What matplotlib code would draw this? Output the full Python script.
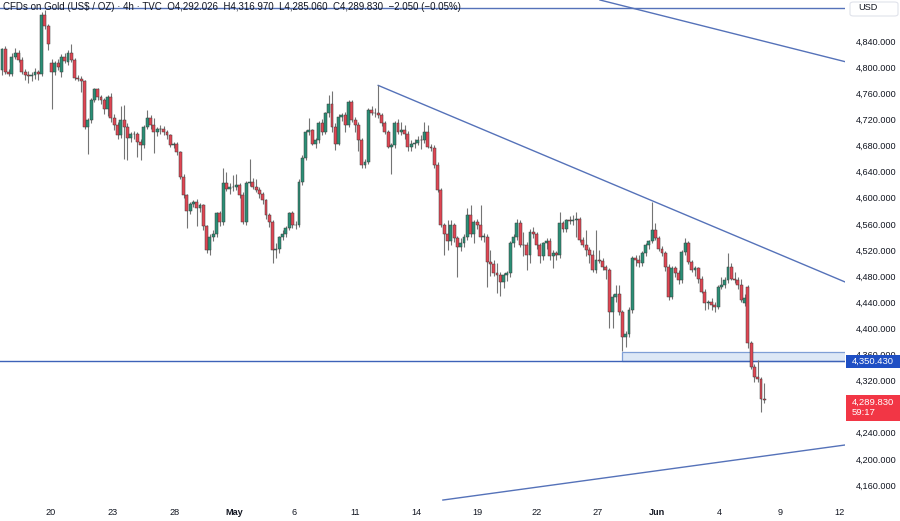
import matplotlib
matplotlib.use("Agg")
import matplotlib.pyplot as plt
from matplotlib.patches import Rectangle, FancyBboxPatch

# ---------------- data (4h candles) ----------------
opens = [4795, 4827, 4793, 4790, 4816, 4821, 4811, 4793, 4788, 4786, 4788, 4792, 4789, 4880, 4863, 4806,
         4792, 4806, 4792, 4816, 4808, 4821, 4811, 4783, 4782, 4778, 4709, 4719, 4750, 4766, 4755, 4750,
         4736, 4754, 4722, 4711, 4696, 4719, 4709, 4691, 4698, 4697, 4686, 4681, 4709, 4722, 4711, 4701,
         4705, 4706, 4701, 4696, 4681, 4683, 4670, 4632, 4604, 4579, 4591, 4594, 4584, 4589, 4556, 4520,
         4540, 4545, 4576, 4563, 4622, 4614, 4616, 4617, 4619, 4604, 4563, 4622, 4624, 4617, 4612, 4606,
         4596, 4573, 4563, 4520, 4522, 4540, 4545, 4553, 4576, 4558, 4558, 4624, 4661, 4701, 4703, 4683,
         4688, 4714, 4701, 4729, 4744, 4709, 4683, 4724, 4726, 4711, 4747, 4719, 4711, 4688, 4650, 4655,
         4734, 4730, 4729, 4727, 4714, 4701, 4678, 4680, 4714, 4701, 4703, 4698, 4678, 4683, 4684, 4688,
         4688, 4701, 4678, 4676, 4650, 4612, 4558, 4545, 4533, 4558, 4538, 4525, 4530, 4540, 4573, 4545,
         4563, 4558, 4540, 4540, 4502, 4499, 4484, 4482, 4471, 4482, 4484, 4530, 4540, 4561, 4528, 4527,
         4512, 4548, 4545, 4527, 4510, 4530, 4533, 4510, 4515, 4512, 4561, 4552, 4566, 4564, 4566, 4568,
         4535, 4528, 4520, 4512, 4489, 4505, 4503, 4494, 4489, 4425, 4448, 4453, 4425, 4387, 4392, 4428,
         4507, 4505, 4500, 4515, 4527, 4533, 4550, 4538, 4522, 4515, 4494, 4448, 4492, 4484, 4474, 4517,
         4530, 4502, 4489, 4492, 4476, 4456, 4438, 4440, 4436, 4433, 4464, 4466, 4474, 4494, 4476, 4474,
         4466, 4438, 4464, 4377, 4341, 4326, 4323, 4292.026]
highs = [4830, 4832, 4797, 4822, 4830, 4826, 4815, 4797, 4794, 4792, 4798, 4796, 4884, 4887, 4866, 4812,
         4810, 4812, 4820, 4822, 4826, 4836, 4814, 4788, 4786, 4780, 4722, 4752, 4768, 4768, 4758, 4752,
         4758, 4760, 4728, 4716, 4740, 4742, 4715, 4700, 4702, 4700, 4690, 4712, 4735, 4726, 4722, 4708,
         4712, 4710, 4704, 4698, 4686, 4686, 4672, 4636, 4606, 4594, 4597, 4598, 4592, 4591, 4558, 4545,
         4550, 4578, 4580, 4645, 4640, 4622, 4635, 4636, 4622, 4608, 4626, 4659, 4630, 4628, 4616, 4608,
         4598, 4576, 4566, 4530, 4542, 4550, 4556, 4578, 4580, 4564, 4628, 4665, 4704, 4722, 4706, 4692,
         4718, 4720, 4732, 4757, 4764, 4714, 4728, 4730, 4732, 4750, 4750, 4724, 4716, 4692, 4660, 4738,
         4740, 4738, 4772, 4730, 4718, 4704, 4684, 4717, 4720, 4716, 4712, 4702, 4688, 4690, 4694, 4696,
         4716, 4712, 4682, 4680, 4654, 4615, 4562, 4566, 4566, 4562, 4542, 4538, 4545, 4584, 4589, 4566,
         4568, 4589, 4546, 4545, 4520, 4504, 4500, 4486, 4484, 4488, 4534, 4545, 4568, 4566, 4548, 4532,
         4552, 4555, 4548, 4530, 4532, 4538, 4538, 4520, 4519, 4578, 4564, 4568, 4572, 4574, 4578, 4570,
         4540, 4550, 4524, 4520, 4550, 4520, 4508, 4497, 4492, 4452, 4466, 4466, 4428, 4396, 4432, 4510,
         4512, 4512, 4518, 4530, 4536, 4594, 4561, 4542, 4526, 4518, 4498, 4496, 4496, 4490, 4520, 4538,
         4534, 4505, 4495, 4494, 4480, 4460, 4444, 4446, 4440, 4466, 4478, 4478, 4515, 4500, 4486, 4478,
         4476, 4452, 4466, 4380, 4346, 4351, 4326, 4316.970]
lows = [4788, 4790, 4786, 4786, 4812, 4808, 4789, 4780, 4776, 4778, 4782, 4780, 4786, 4858, 4826, 4736,
        4788, 4795, 4785, 4806, 4804, 4808, 4780, 4778, 4762, 4705, 4667, 4715, 4746, 4750, 4744, 4728,
        4725, 4716, 4704, 4690, 4692, 4660, 4658, 4686, 4690, 4662, 4658, 4676, 4705, 4706, 4668, 4694,
        4698, 4696, 4690, 4678, 4676, 4665, 4628, 4600, 4553, 4575, 4586, 4556, 4578, 4550, 4515, 4512,
        4534, 4540, 4556, 4558, 4610, 4606, 4610, 4612, 4600, 4560, 4558, 4618, 4614, 4608, 4600, 4590,
        4568, 4555, 4500, 4508, 4515, 4536, 4540, 4550, 4554, 4552, 4555, 4620, 4658, 4696, 4680, 4676,
        4684, 4696, 4698, 4724, 4700, 4673, 4680, 4718, 4701, 4708, 4716, 4701, 4671, 4646, 4645, 4652,
        4726, 4724, 4722, 4710, 4698, 4676, 4637, 4676, 4697, 4696, 4690, 4672, 4672, 4676, 4680, 4674,
        4684, 4676, 4672, 4646, 4608, 4555, 4512, 4520, 4528, 4532, 4479, 4518, 4524, 4536, 4540, 4530,
        4552, 4535, 4532, 4464, 4480, 4480, 4454, 4450, 4462, 4472, 4478, 4525, 4536, 4524, 4510, 4489,
        4500, 4538, 4522, 4500, 4505, 4522, 4505, 4492, 4505, 4508, 4548, 4548, 4560, 4558, 4540, 4532,
        4525, 4510, 4500, 4486, 4484, 4500, 4490, 4476, 4400, 4400, 4440, 4420, 4366, 4372, 4386, 4424,
        4496, 4494, 4496, 4510, 4522, 4530, 4536, 4518, 4510, 4488, 4443, 4445, 4478, 4468, 4470, 4512,
        4498, 4486, 4480, 4470, 4454, 4428, 4430, 4428, 4425, 4430, 4460, 4462, 4470, 4474, 4470, 4460,
        4440, 4434, 4370, 4338, 4318, 4318, 4272, 4285.060]
closes = [4827, 4793, 4790, 4816, 4821, 4811, 4793, 4788, 4786, 4788, 4792, 4789, 4880, 4863, 4836, 4792,
          4806, 4800, 4816, 4810, 4821, 4811, 4783, 4782, 4778, 4709, 4719, 4750, 4766, 4755, 4750, 4736,
          4754, 4722, 4711, 4696, 4719, 4709, 4691, 4698, 4697, 4686, 4681, 4709, 4722, 4711, 4701, 4705,
          4706, 4701, 4696, 4681, 4683, 4670, 4632, 4604, 4579, 4591, 4594, 4584, 4589, 4556, 4520, 4540,
          4545, 4576, 4563, 4622, 4614, 4616, 4617, 4619, 4604, 4563, 4622, 4624, 4617, 4612, 4606, 4596,
          4573, 4563, 4520, 4522, 4540, 4545, 4553, 4576, 4558, 4558, 4624, 4661, 4701, 4703, 4683, 4688,
          4714, 4701, 4729, 4744, 4709, 4683, 4724, 4726, 4711, 4747, 4719, 4711, 4688, 4650, 4655, 4734,
          4730, 4729, 4727, 4714, 4701, 4678, 4680, 4714, 4701, 4703, 4698, 4678, 4683, 4684, 4688, 4688,
          4701, 4678, 4676, 4650, 4612, 4558, 4545, 4533, 4558, 4538, 4525, 4530, 4540, 4573, 4545, 4563,
          4558, 4540, 4540, 4502, 4499, 4484, 4482, 4471, 4482, 4484, 4530, 4540, 4561, 4528, 4527, 4512,
          4548, 4545, 4527, 4510, 4530, 4533, 4510, 4515, 4512, 4561, 4552, 4566, 4564, 4566, 4568, 4535,
          4528, 4520, 4512, 4489, 4505, 4503, 4494, 4489, 4425, 4448, 4453, 4425, 4387, 4392, 4428, 4507,
          4505, 4500, 4515, 4527, 4533, 4550, 4538, 4522, 4515, 4494, 4448, 4492, 4484, 4474, 4517, 4530,
          4502, 4489, 4492, 4476, 4456, 4438, 4440, 4436, 4433, 4464, 4466, 4474, 4494, 4476, 4474, 4466,
          4443, 4446, 4377, 4341, 4326, 4323, 4292, 4289.830]

date_labels = ["20", "23", "28", "May", "6", "11", "14", "19", "22", "27", "Jun", "4", "9", "12"]
date_pos = [14.85, 33.6, 52.4, 70.3, 88.5, 107.0, 125.5, 144.2, 162.1, 180.6, 198.5, 217.3, 235.8, 253.9]
bold_labels = ["May", "Jun"]

# 4,280 is hidden behind the last-price tag in the reference
price_ticks = [4160, 4200, 4240, 4320, 4360, 4400, 4440, 4480, 4520, 4560, 4600,
               4640, 4680, 4720, 4760, 4800, 4840]

support_level = 4350.43
zone_top = 4364.0
zone_start = 187.9
top_level = 4890.0
trend_down = [(114, 4772.0), (255.45, 4471.0)]
trend_upper = [(181.2, 4902.8), (255.45, 4808.4)]
trend_lower = [(133.6, 4137.0), (255.45, 4221.3)]

last_price = 4289.830
countdown = "59:17"
title = ("CFDs on Gold (US$ / OZ) · 4h · TVC  O4,292.026  H4,316.970  "
         "L4,285.060  C4,289.830  −2.050 (−0.05%)")

# ---------------- figure ----------------
W, H = 900, 521
fig = plt.figure(figsize=(W / 100, H / 100), dpi=100)
fig.patch.set_facecolor("white")
ax = fig.add_axes([0, 19 / H, 845 / W, 502 / H])
ax.set_xlim(-0.606, 255.45)
ax.set_ylim(4134.0, 4902.8)

UP = "#2b8f76"
DN = "#e04653"
EDGE = "#3b3b3b"
WICK = "#747474"
LINE = "#5572b9"

n = len(closes)
idx = list(range(n))
ax.vlines(idx, lows, highs, color=WICK, linewidth=0.8, zorder=2)
bottoms = [min(o, c) for o, c in zip(opens, closes)]
heights = [max(abs(c - o), 0.8) for o, c in zip(opens, closes)]
cols = [UP if c >= o else DN for o, c in zip(opens, closes)]
ax.bar(idx, heights, bottom=bottoms, width=0.86, color=cols, edgecolor=EDGE,
       linewidth=0.35, zorder=3)

# drawings
ax.axhline(top_level, color=LINE, linewidth=1.0, zorder=1)
ax.axline(trend_upper[0], trend_upper[1], color=LINE, linewidth=1.0, zorder=1)
slope_d = (trend_down[1][1] - trend_down[0][1]) / (trend_down[1][0] - trend_down[0][0])
ax.plot([trend_down[0][0], trend_down[1][0] + 5],
        [trend_down[0][1], trend_down[1][1] + 5 * slope_d],
        color=LINE, linewidth=1.0, zorder=1)
slope_l = (trend_lower[1][1] - trend_lower[0][1]) / (trend_lower[1][0] - trend_lower[0][0])
ax.plot([trend_lower[0][0], trend_lower[1][0] + 5],
        [trend_lower[0][1], trend_lower[1][1] + 5 * slope_l],
        color=LINE, linewidth=1.0, zorder=1)
ax.add_patch(Rectangle((zone_start, support_level), 260 - zone_start, zone_top - support_level,
                       facecolor="#dde8f6", edgecolor="#7f9fd6", linewidth=0.9, zorder=1))
ax.axhline(support_level, color="#3d62b8", linewidth=1.0, zorder=1.5)

for s in ax.spines.values():
    s.set_visible(False)

ax.yaxis.tick_right()
ax.set_yticks(price_ticks)
ax.set_yticklabels([f"{p:,.3f}" for p in price_ticks], fontsize=6.6,
                   family="Liberation Sans", color="#131722")
ax.tick_params(axis="y", length=0, pad=7.5)
ax.set_xticks(date_pos)
ax.set_xticklabels(date_labels, fontsize=6.6, family="Liberation Sans", color="#131722")
for t in ax.get_xticklabels():
    if t.get_text() in bold_labels:
        t.set_fontweight("bold")
ax.tick_params(axis="x", length=0, pad=4)

# title
fig.text(3 / W, 1 - 6.5 / H, title, fontsize=7.0, family="Liberation Sans",
         color="#131722", va="center", ha="left")

# USD box
fig.patches.append(FancyBboxPatch((850 / W, 1 - 16 / H), 48 / W, 14 / H,
                                  boxstyle="round,pad=0,rounding_size=0.004",
                                  transform=fig.transFigure, facecolor="white",
                                  edgecolor="#e0e3eb", linewidth=0.8, zorder=5))
fig.text(858 / W, 1 - 8 / H, "USD", fontsize=6.6, family="Liberation Sans",
         color="#131722", va="center", ha="left", zorder=6)

# price tags
fig.patches.append(Rectangle((846 / W, 1 - 368 / H), 54 / W, 13 / H,
                             transform=fig.transFigure, facecolor="#1f4fc4",
                             edgecolor="none", zorder=5))
fig.text(852 / W, 1 - 361.5 / H, f"{support_level:,.3f}", fontsize=6.8,
         family="Liberation Sans", color="white", va="center", ha="left", zorder=6)
fig.patches.append(Rectangle((846 / W, 1 - 421 / H), 54 / W, 26 / H,
                             transform=fig.transFigure, facecolor="#f23645",
                             edgecolor="none", zorder=5))
fig.text(852 / W, 1 - 407.5 / H, f"{last_price:,.3f}\n{countdown}", fontsize=6.8,
         family="Liberation Sans", color="white", va="center", ha="left",
         linespacing=1.25, zorder=6)

fig.savefig("out.png", dpi=100)
